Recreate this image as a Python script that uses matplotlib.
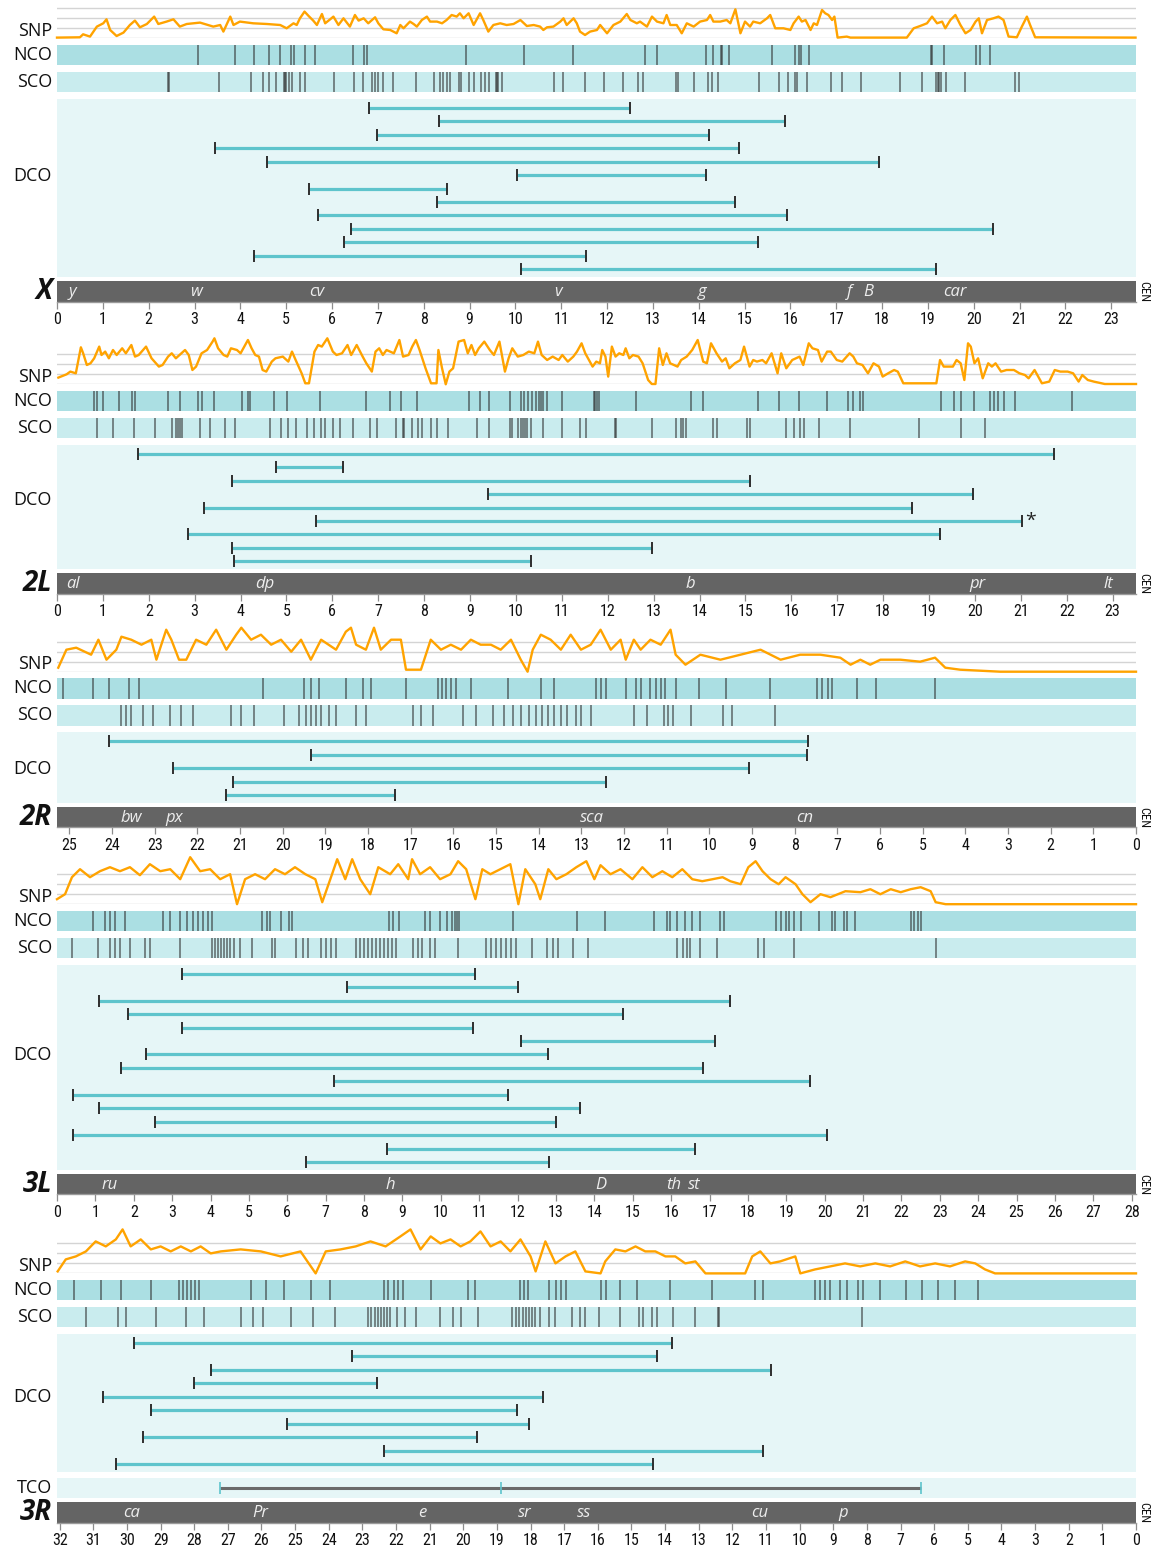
import matplotlib
matplotlib.use("Agg")
import matplotlib.pyplot as plt
import matplotlib.transforms as mtransforms
from matplotlib import font_manager
import numpy as np

# ---------------------------------------------------------------- data
# X chromosome
x_len = 23.54
x_genes = ["y", "w", "cv", "v", "g", "f", "B", "car"]
x_gene_pos = [0.33, 3.03, 5.67, 10.93, 14.07, 17.28, 17.70, 19.60]
x_snp = [(0.0, 0.07), (0.50, 0.1), (0.57, 0.4), (0.72, 0.17), (0.87, 1.17), (1.01, 1.5), (1.08, 1.9),
         (1.16, 0.83), (1.30, 0.23), (1.45, 0.57), (1.59, 1.33), (1.70, 1.77), (1.81, 1.1), (1.96, 1.43),
         (2.12, 2.17), (2.21, 1.43), (2.39, 1.67), (2.54, 1.9), (2.68, 1.17), (2.83, 1.43), (3.12, 1.57),
         (3.41, 1.17), (3.56, 1.33), (3.63, 0.67), (3.78, 2.17), (3.85, 1.33), (3.99, 1.67), (4.28, 1.5),
         (4.58, 1.43), (4.87, 1.33), (5.01, 1.0), (5.16, 1.5), (5.23, 1.33), (5.30, 2.0), (5.40, 2.67),
         (5.49, 2.23), (5.59, 1.77), (5.67, 1.33), (5.78, 2.43), (5.85, 1.5), (5.96, 1.9), (6.03, 2.17),
         (6.14, 1.33), (6.25, 2.0), (6.39, 1.17), (6.50, 2.33), (6.58, 1.77), (6.69, 2.0), (6.79, 1.5),
         (6.94, 2.1), (7.01, 1.5), (7.12, 0.9), (7.27, 0.83), (7.41, 0.5), (7.49, 1.33), (7.56, 1.0),
         (7.70, 1.67), (7.78, 1.43), (7.85, 1.17), (7.96, 1.83), (8.07, 2.17), (8.14, 1.67), (8.29, 1.67),
         (8.40, 1.5), (8.50, 1.83), (8.61, 2.33), (8.72, 2.17), (8.79, 2.5), (8.87, 2.0), (8.98, 2.5),
         (9.09, 1.33), (9.23, 2.5), (9.30, 1.83), (9.41, 0.67), (9.52, 1.33), (9.67, 1.5), (9.81, 1.33),
         (9.96, 1.43), (10.11, 1.83), (10.25, 1.23), (10.40, 1.33), (10.54, 1.17), (10.61, 0.83),
         (10.69, 1.1), (10.83, 1.17), (10.98, 1.67), (11.05, 2.0), (11.12, 1.33), (11.27, 2.0), (11.34, 1.5),
         (11.41, 0.67), (11.52, 0.33), (11.63, 0.67), (11.78, 0.83), (11.85, 1.33), (12.00, 0.5),
         (12.14, 1.33), (12.29, 1.67), (12.43, 2.43), (12.51, 1.83), (12.65, 1.5), (12.72, 1.67),
         (12.87, 1.17), (12.98, 2.17), (13.09, 1.67), (13.23, 1.5), (13.30, 2.33), (13.38, 1.33),
         (13.52, 1.33), (13.63, 0.5), (13.74, 1.5), (13.89, 1.17), (14.03, 1.67), (14.18, 1.83),
         (14.25, 2.33), (14.32, 1.67), (14.47, 1.67), (14.61, 1.83), (14.69, 1.5), (14.80, 2.9),
         (14.91, 0.5), (15.01, 1.67), (15.12, 1.17), (15.19, 1.67), (15.34, 1.5), (15.49, 2.0),
         (15.56, 2.33), (15.67, 1.0), (15.78, 1.0), (15.85, 1.0), (16.00, 0.83), (16.07, 1.5),
         (16.18, 2.17), (16.25, 1.67), (16.33, 1.83), (16.44, 0.83), (16.51, 1.5), (16.58, 1.33),
         (16.69, 2.83), (16.76, 2.5), (16.83, 2.33), (16.91, 1.83), (16.96, 2.17), (17.03, 0.07),
         (17.23, 0.17), (17.31, 0.07), (18.54, 0.07), (18.69, 1.0), (18.83, 1.23), (18.98, 1.5),
         (19.09, 2.17), (19.20, 1.5), (19.31, 1.67), (19.38, 1.0), (19.49, 1.83), (19.60, 2.33),
         (19.71, 1.33), (19.82, 0.5), (19.93, 0.83), (20.04, 1.67), (20.11, 2.0), (20.18, 0.5),
         (20.29, 1.83), (20.43, 2.0), (20.54, 2.17), (20.65, 1.83), (20.76, 0.17), (20.94, 0.1),
         (21.05, 1.17), (21.16, 2.17), (21.23, 1.33), (21.34, 0.1), (23.53, 0.07)]
x_nco = [3.08, 3.89, 4.30, 4.62, 4.87, 5.11, 5.17, 5.40, 5.63, 6.46, 6.70, 6.76, 8.93, 10.18, 11.25,
         12.83, 13.09, 14.16, 14.31, 14.48, 14.51, 14.67, 15.60, 16.10, 16.19, 16.24, 16.41, 19.06,
         19.10, 19.36, 20.05, 20.14, 20.36]
x_sco = [2.42, 2.45, 3.54, 4.23, 4.50, 4.62, 4.77, 4.95, 4.98, 5.00, 5.06, 5.13, 5.30, 5.40, 6.05,
         6.47, 6.68, 6.88, 6.93, 7.00, 7.12, 7.34, 7.84, 8.23, 8.36, 8.43, 8.51, 8.58, 8.77, 8.82, 8.99,
         9.09, 9.26, 9.33, 9.42, 9.57, 9.60, 9.62, 9.70, 10.85, 11.05, 11.51, 11.94, 12.35, 12.68, 12.79,
         13.50, 13.54, 13.89, 14.21, 14.29, 14.42, 15.31, 15.75, 15.95, 16.11, 16.14, 16.36, 16.89,
         17.13, 17.53, 18.40, 18.88, 19.18, 19.21, 19.25, 19.28, 19.39, 19.82, 20.90, 20.99]
x_dco_a = [6.81, 8.34, 6.98, 3.45, 4.58, 10.04, 5.50, 8.29, 5.70, 6.42, 6.26, 4.30, 10.13]
x_dco_b = [12.51, 15.89, 14.23, 14.88, 17.94, 14.16, 8.51, 14.80, 15.93, 20.41, 15.30, 11.55, 19.18]

# 2L
l2_len = 23.51
l2_genes = ["al", "dp", "b", "pr", "lt"]
l2_gene_pos = [0.35, 4.53, 13.80, 20.06, 22.91]
l2_snp = [(0.03, 0.67), (0.21, 1.0), (0.29, 1.27), (0.41, 1.1), (0.52, 3.7), (0.57, 3.1), (0.65, 1.93),
          (0.73, 2.1), (0.81, 2.6), (0.92, 3.77), (0.97, 2.93), (1.05, 3.27), (1.13, 2.6), (1.22, 3.43),
          (1.30, 2.93), (1.42, 3.6), (1.50, 3.1), (1.62, 3.93), (1.70, 2.77), (1.78, 2.93), (1.94, 3.77),
          (2.06, 2.6), (2.22, 1.77), (2.30, 1.93), (2.42, 2.77), (2.50, 3.1), (2.59, 2.6), (2.71, 3.1),
          (2.79, 3.43), (2.87, 2.93), (2.95, 1.43), (3.03, 1.77), (3.15, 3.1), (3.27, 3.43), (3.39, 4.27),
          (3.43, 4.6), (3.51, 3.6), (3.63, 2.93), (3.71, 2.77), (3.79, 3.6), (3.92, 3.43), (4.00, 3.1),
          (4.16, 4.43), (4.24, 3.6), (4.32, 2.93), (4.40, 2.77), (4.48, 1.43), (4.56, 1.27), (4.68, 2.27),
          (4.76, 2.6), (4.92, 2.77), (5.04, 2.27), (5.12, 3.27), (5.20, 2.43), (5.33, 1.1), (5.41, 0.1),
          (5.49, 0.1), (5.61, 3.27), (5.69, 3.93), (5.77, 3.77), (5.89, 4.6), (6.01, 3.27), (6.09, 2.93),
          (6.21, 3.1), (6.33, 3.93), (6.41, 2.93), (6.53, 3.93), (6.66, 2.77), (6.74, 2.1), (6.86, 1.27),
          (6.94, 3.27), (7.02, 3.6), (7.10, 2.93), (7.18, 3.43), (7.34, 3.1), (7.46, 4.43), (7.54, 2.77),
          (7.66, 2.93), (7.74, 3.77), (7.82, 4.43), (7.90, 3.43), (8.03, 1.6), (8.15, 0.1), (8.27, 0.1),
          (8.31, 3.43), (8.39, 1.6), (8.47, 0.0), (8.55, 1.27), (8.63, 1.6), (8.75, 4.27), (8.87, 4.43),
          (8.95, 3.1), (9.03, 3.93), (9.11, 2.93), (9.19, 3.6), (9.31, 4.27), (9.43, 3.43), (9.52, 2.93),
          (9.64, 4.27), (9.76, 1.27), (9.84, 2.6), (9.92, 3.6), (10.04, 2.77), (10.16, 2.93), (10.28, 3.27),
          (10.40, 3.1), (10.48, 4.27), (10.56, 2.93), (10.68, 2.43), (10.80, 2.77), (10.93, 2.43),
          (11.01, 2.93), (11.13, 2.27), (11.25, 2.77), (11.33, 3.27), (11.43, 4.1), (11.51, 3.1),
          (11.59, 2.43), (11.67, 1.77), (11.75, 2.27), (11.83, 2.1), (11.88, 3.43), (11.95, 2.77),
          (12.01, 0.77), (12.09, 3.77), (12.17, 2.77), (12.25, 3.1), (12.34, 2.93), (12.39, 3.6),
          (12.47, 2.6), (12.55, 2.93), (12.67, 2.77), (12.76, 2.1), (12.88, 0.43), (12.96, 0.03),
          (13.04, 0.03), (13.12, 3.6), (13.20, 1.93), (13.28, 3.1), (13.36, 2.1), (13.52, 1.77),
          (13.60, 2.43), (13.72, 2.77), (13.84, 3.43), (13.96, 4.43), (14.08, 2.27), (14.16, 2.1),
          (14.25, 4.1), (14.37, 3.1), (14.49, 2.27), (14.57, 2.6), (14.65, 1.6), (14.77, 2.1), (14.89, 2.43),
          (14.97, 3.77), (15.09, 1.77), (15.17, 2.43), (15.25, 2.27), (15.37, 2.43), (15.45, 2.1),
          (15.57, 3.1), (15.70, 1.1), (15.78, 3.1), (15.89, 1.6), (16.02, 2.43), (16.18, 2.77),
          (16.26, 1.93), (16.38, 4.1), (16.46, 3.6), (16.58, 3.43), (16.66, 2.27), (16.78, 3.27),
          (16.86, 3.27), (16.99, 2.43), (17.11, 2.27), (17.27, 3.1), (17.35, 2.77), (17.43, 2.1),
          (17.55, 1.93), (17.67, 1.1), (17.79, 2.1), (17.91, 1.77), (17.99, 0.77), (18.11, 1.1),
          (18.24, 1.43), (18.32, 1.27), (18.44, 0.1), (19.16, 0.1), (19.24, 2.43), (19.32, 1.77),
          (19.52, 1.77), (19.60, 2.43), (19.69, 2.1), (19.77, 0.43), (19.85, 4.1), (19.91, 3.77),
          (19.99, 2.1), (20.07, 2.6), (20.17, 0.6), (20.29, 2.1), (20.37, 1.77), (20.45, 2.1), (20.57, 1.27),
          (20.69, 1.43), (20.85, 1.43), (20.97, 1.1), (21.09, 0.93), (21.17, 0.6), (21.30, 1.43),
          (21.38, 0.77), (21.46, 0.1), (21.62, 0.27), (21.74, 1.43), (21.86, 1.27), (22.02, 1.27),
          (22.14, 1.1), (22.26, 0.27), (22.34, 0.93), (22.46, 0.43), (22.59, 0.27), (22.83, 0.03),
          (23.51, 0.03)]
l2_nco = [0.81, 0.87, 1.01, 1.36, 1.64, 1.70, 2.42, 2.68, 3.08, 3.17, 3.41, 4.04, 4.17, 4.21, 4.72,
          5.02, 5.74, 6.74, 7.26, 7.49, 7.84, 8.97, 9.22, 9.42, 9.88, 10.12, 10.18, 10.26, 10.36, 10.44,
          10.51, 10.55, 10.60, 10.68, 11.00, 11.69, 11.72, 11.77, 11.81, 12.62, 13.81, 14.07, 15.28,
          15.74, 16.17, 16.78, 17.23, 17.35, 17.49, 17.56, 19.26, 19.54, 19.70, 19.98, 20.33, 20.41,
          20.51, 20.63, 20.88, 22.12]
l2_sco = [0.87, 1.23, 1.68, 2.14, 2.50, 2.60, 2.64, 2.68, 2.72, 3.11, 3.33, 3.65, 3.87, 4.64, 4.88,
          5.03, 5.20, 5.45, 5.61, 5.75, 5.85, 6.01, 6.17, 6.45, 6.82, 6.98, 7.38, 7.53, 7.56, 7.74, 7.86,
          7.96, 8.15, 8.27, 8.51, 9.15, 9.41, 9.88, 9.92, 10.04, 10.12, 10.16, 10.20, 10.24, 10.32, 10.60,
          11.00, 11.40, 11.53, 12.15, 12.19, 12.96, 13.48, 13.59, 13.63, 13.70, 14.30, 14.37, 15.04,
          15.11, 15.88, 16.06, 16.18, 16.28, 16.60, 17.28, 18.78, 19.69, 20.23]
l2_dco_a = [1.76, 4.77, 3.81, 9.39, 3.20, 5.64, 2.85, 3.81, 3.86]
l2_dco_b = [21.72, 6.23, 15.10, 19.95, 18.62, 21.02, 19.23, 12.96, 10.32]

# 2R (drawn telomere on the left, centromere on the right)
r2_len = 25.29
r2_genes = ["bw", "px", "sca", "cn"]
r2_gene_pos = [23.55, 22.54, 12.76, 7.77]
r2_snp = [(25.26, 0.4), (25.07, 2.2), (24.84, 2.4), (24.49, 1.7), (24.32, 3.2), (24.13, 1.2), (23.90, 2.2),
          (23.78, 3.5), (23.55, 3.2), (23.31, 2.7), (23.08, 3.2), (22.96, 1.2), (22.73, 4.2), (22.61, 3.2),
          (22.43, 1.2), (22.26, 1.2), (22.03, 3.2), (21.79, 2.7), (21.56, 4.2), (21.32, 2.2), (21.09, 3.7),
          (20.97, 4.4), (20.74, 3.2), (20.51, 3.7), (20.27, 2.7), (20.04, 3.2), (19.80, 2.0), (19.57, 3.2),
          (19.34, 1.2), (19.10, 3.2), (18.75, 2.2), (18.52, 4.0), (18.40, 4.4), (18.28, 2.7), (18.05, 2.2),
          (17.86, 4.4), (17.70, 2.2), (17.46, 3.2), (17.23, 3.2), (17.11, 0.2), (16.76, 0.2), (16.53, 3.2),
          (16.29, 2.2), (16.06, 2.7), (15.82, 2.2), (15.59, 3.2), (15.36, 2.7), (15.12, 2.7), (14.89, 2.2),
          (14.65, 3.2), (14.42, 1.2), (14.26, 0.0), (14.14, 2.2), (13.95, 3.7), (13.72, 3.2), (13.48, 2.2),
          (13.25, 3.7), (13.01, 2.2), (12.78, 2.7), (12.55, 4.2), (12.31, 2.2), (12.08, 3.2), (11.96, 1.2),
          (11.77, 3.2), (11.61, 2.2), (11.38, 3.2), (11.14, 2.7), (10.91, 4.2), (10.79, 1.7), (10.56, 0.7),
          (10.21, 1.7), (9.74, 1.2), (9.27, 1.7), (8.80, 2.2), (8.33, 1.2), (7.87, 1.7), (7.40, 1.7),
          (6.93, 1.4), (6.69, 0.7), (6.46, 1.2), (6.23, 0.7), (5.99, 1.2), (5.52, 1.2), (5.06, 1.0),
          (4.71, 1.4), (4.47, 0.4), (4.12, 0.2), (3.18, 0.0), (0.0, 0.0)]
r2_nco = [25.14, 24.44, 24.06, 23.60, 23.36, 20.46, 19.50, 19.34, 19.15, 18.52, 18.12, 17.93, 17.11,
          16.36, 16.27, 16.18, 16.06, 15.94, 15.59, 14.72, 13.95, 13.65, 12.66, 12.55, 12.43, 11.96,
          11.73, 11.61, 11.38, 11.26, 11.14, 11.03, 10.79, 10.25, 9.62, 8.57, 7.47, 7.35, 7.23, 7.12,
          6.53, 6.09, 4.71]
r2_sco = [23.78, 23.67, 23.55, 23.27, 23.03, 22.64, 22.38, 22.10, 21.21, 20.97, 20.67, 19.97, 19.62,
          19.45, 19.34, 19.22, 19.10, 18.91, 18.75, 18.28, 18.05, 16.95, 16.76, 16.48, 15.78, 15.47,
          15.07, 14.82, 14.61, 14.42, 14.23, 14.07, 13.93, 13.79, 13.65, 13.48, 13.34, 13.13, 13.01,
          12.78, 11.77, 11.45, 11.07, 10.98, 10.86, 10.44, 9.69, 9.46, 8.45]
r2_dco_a = [24.06, 19.34, 22.57, 21.16, 21.33]
r2_dco_b = [7.68, 7.70, 9.06, 12.43, 17.37]

# 3L
l3_len = 28.11
l3_genes = ["ru", "h", "D", "th", "st"]
l3_gene_pos = [1.36, 8.68, 14.16, 16.08, 16.61]
l3_snp = [(0.0, 0.5), (0.21, 1.0), (0.39, 2.7), (0.60, 3.5), (0.86, 2.7), (1.12, 3.3), (1.38, 3.7),
          (1.64, 3.3), (1.90, 3.7), (2.16, 2.9), (2.42, 4.0), (2.69, 3.3), (2.95, 3.5), (3.21, 2.5),
          (3.47, 4.7), (3.73, 3.3), (3.99, 3.5), (4.25, 2.5), (4.51, 3.0), (4.69, 0.0), (4.90, 2.5),
          (5.16, 3.0), (5.42, 2.5), (5.68, 3.5), (5.94, 3.0), (6.20, 3.7), (6.47, 3.0), (6.73, 2.5),
          (6.91, 0.2), (7.12, 2.5), (7.30, 4.5), (7.51, 2.5), (7.69, 4.5), (7.90, 2.5), (8.16, 1.0),
          (8.37, 3.7), (8.68, 3.0), (8.89, 4.0), (9.15, 2.5), (9.25, 4.5), (9.46, 3.0), (9.72, 3.7),
          (9.98, 2.5), (10.25, 3.0), (10.45, 4.3), (10.66, 3.5), (10.90, 0.5), (11.08, 3.5), (11.29, 3.0),
          (11.55, 3.5), (11.81, 4.0), (12.02, 0.0), (12.20, 3.5), (12.46, 2.0), (12.59, 0.5), (12.80, 3.5),
          (13.01, 2.5), (13.27, 3.0), (13.53, 3.7), (13.79, 4.3), (14.00, 2.5), (14.16, 3.9), (14.42, 3.0),
          (14.68, 3.5), (14.99, 2.5), (15.25, 3.7), (15.51, 2.7), (15.77, 3.3), (16.03, 2.7), (16.29, 3.5),
          (16.55, 2.5), (16.81, 2.3), (17.08, 2.5), (17.34, 2.7), (17.54, 2.3), (17.81, 2.0), (18.01, 3.7),
          (18.20, 4.3), (18.38, 3.3), (18.59, 2.5), (18.80, 2.0), (18.98, 2.7), (19.24, 2.0), (19.42, 1.0),
          (19.63, 0.2), (19.89, 1.0), (20.15, 0.7), (20.54, 1.3), (20.93, 1.2), (21.19, 1.5), (21.45, 1.0),
          (21.72, 1.5), (21.98, 1.2), (22.24, 1.5), (22.50, 1.7), (22.76, 1.3), (22.89, 0.2), (23.15, 0.0),
          (28.11, 0.0)]
l3_nco = [0.94, 1.25, 1.38, 1.51, 1.77, 2.76, 2.95, 3.21, 3.39, 3.55, 3.68, 3.81, 3.94, 4.04, 5.34,
          5.47, 5.55, 5.84, 6.05, 6.13, 8.66, 8.76, 8.92, 9.59, 9.72, 9.99, 10.17, 10.30, 10.37, 10.43,
          10.48, 11.89, 13.56, 14.28, 15.54, 15.90, 15.98, 16.14, 16.37, 16.53, 16.76, 17.28, 17.37,
          18.72, 18.85, 18.98, 19.06, 19.19, 19.37, 19.84, 20.20, 20.28, 20.49, 20.59, 20.80, 22.24,
          22.32, 22.42, 22.50]
l3_sco = [0.39, 1.07, 1.38, 1.51, 1.64, 1.90, 2.29, 2.42, 3.21, 4.04, 4.12, 4.20, 4.27, 4.35, 4.43,
          4.51, 4.61, 4.77, 5.08, 5.60, 5.68, 6.23, 6.41, 6.54, 6.88, 7.01, 7.14, 7.27, 7.79, 7.90, 8.00,
          8.11, 8.21, 8.32, 8.42, 8.53, 8.63, 8.73, 8.84, 9.28, 9.41, 9.52, 9.72, 9.85, 10.45, 11.18,
          11.31, 11.44, 11.57, 11.70, 11.83, 11.96, 12.38, 12.77, 12.93, 13.06, 13.45, 13.84, 16.16,
          16.32, 16.42, 16.50, 16.76, 17.20, 18.27, 18.43, 19.19, 22.89]
l3_dco_a = [3.26, 7.56, 1.09, 1.85, 3.26, 12.10, 2.32, 1.67, 7.22, 0.42, 1.09, 2.55, 0.42, 8.60, 6.49]
l3_dco_b = [10.90, 12.02, 17.54, 14.75, 10.84, 17.13, 12.80, 16.84, 19.63, 11.76, 13.63, 13.01, 20.07,
            16.63, 12.83]

# 3R (drawn telomere on the left, centromere on the right)
r3_len = 32.08
r3_genes = ["ca", "Pr", "e", "sr", "ss", "cu", "p"]
r3_gene_pos = [29.85, 26.05, 21.22, 18.18, 16.40, 11.20, 8.70]
r3_snp = [(32.06, 0.2), (31.82, 1.4), (31.52, 1.7), (31.22, 2.2), (30.93, 3.2), (30.63, 2.7), (30.33, 3.4),
          (30.13, 4.4), (29.89, 2.7), (29.59, 3.4), (29.29, 2.4), (29.00, 2.7), (28.70, 2.2), (28.40, 2.7),
          (28.10, 2.2), (27.81, 2.7), (27.51, 2.0), (27.21, 2.2), (26.62, 2.4), (26.02, 2.2), (25.43, 1.7),
          (24.84, 2.2), (24.39, 0.0), (24.09, 2.2), (23.65, 2.4), (23.20, 2.7), (22.76, 3.2), (22.31, 2.7),
          (21.87, 3.7), (21.57, 4.4), (21.27, 2.4), (20.97, 3.7), (20.68, 3.0), (20.38, 3.4), (20.08, 2.7),
          (19.79, 3.2), (19.49, 4.2), (19.19, 2.7), (18.89, 3.2), (18.60, 2.2), (18.30, 3.4), (18.00, 1.7),
          (17.85, 0.2), (17.56, 3.2), (17.26, 1.0), (16.96, 1.7), (16.67, 2.2), (16.37, 0.2), (15.92, 0.0),
          (15.78, 1.2), (15.48, 2.4), (15.18, 2.2), (14.88, 2.7), (14.59, 2.2), (14.29, 2.2), (13.99, 1.7),
          (13.70, 1.7), (13.40, 1.0), (13.10, 1.2), (12.80, 0.0), (11.62, 0.0), (11.41, 1.7), (11.17, 2.2),
          (10.87, 1.0), (10.58, 1.2), (10.13, 1.7), (9.98, 0.0), (9.54, 0.4), (9.09, 0.7), (8.65, 1.0),
          (8.20, 0.7), (7.75, 1.0), (7.31, 0.7), (6.86, 1.2), (6.42, 0.7), (5.97, 1.0), (5.53, 0.7),
          (5.08, 1.2), (4.78, 1.0), (4.49, 0.4), (4.19, 0.0), (0.0, 0.0)]
r3_nco = [31.58, 30.78, 30.19, 29.29, 28.46, 28.34, 28.22, 28.10, 27.99, 27.87, 26.32, 25.88, 25.34,
          24.54, 23.95, 22.37, 22.25, 22.07, 21.93, 21.78, 20.97, 19.85, 19.64, 18.30, 18.21, 18.09,
          17.44, 17.23, 17.11, 16.96, 15.92, 15.75, 15.33, 14.83, 13.84, 12.60, 11.32, 11.08, 9.54, 9.39,
          9.24, 9.09, 8.79, 8.59, 8.26, 8.11, 7.61, 6.83, 6.36, 5.88, 5.38, 4.69]
r3_sco = [31.22, 30.27, 30.04, 29.15, 28.25, 27.72, 26.62, 26.26, 25.97, 25.13, 24.48, 23.80, 22.82,
          22.73, 22.64, 22.55, 22.46, 22.37, 22.28, 22.19, 21.96, 21.72, 21.42, 20.68, 20.32, 20.08,
          19.55, 18.54, 18.42, 18.33, 18.24, 18.15, 18.06, 17.97, 17.88, 17.71, 17.44, 17.26, 16.76,
          16.52, 16.37, 15.98, 15.33, 14.79, 14.65, 14.38, 14.23, 13.78, 13.10, 12.42, 12.39, 8.14]
r3_dco_a = [29.80, 23.32, 27.51, 28.02, 30.72, 29.29, 25.25, 29.53, 22.37, 30.33]
r3_dco_b = [13.81, 14.23, 10.84, 22.58, 17.62, 18.39, 18.06, 19.58, 11.08, 14.35]
r3_tco = [27.24, 18.89, 6.39]

# ---------------------------------------------------------------- style
W, H, DPI = 1156, 1546, 100
SNP_C = "#FFA300"
GRID_C = "#D4D4D4"
NCO_C = "#ABDFE3"
SCO_C = "#C9ECEE"
DCO_C = "#E6F6F7"
MARK_C = "#2E2E2E"
SEG_C = "#5EC4CC"
BAR_C = "#646464"
GENE_C = "#EDEDED"

_avail = {f.name for f in font_manager.fontManager.ttflist}


def fonts(*names):
    return [n for n in names if n in _avail] + ["DejaVu Sans"]


NARROW = fonts("Liberation Sans Narrow", "Roboto Condensed", "Open Sans")
SANS = fonts("Open Sans", "Lato", "Noto Sans")

fig = plt.figure(figsize=(W / DPI, H / DPI), dpi=DPI)
fig.patch.set_facecolor("white")

LEFT, RIGHT = 57, 1136
ROW_H = 20.5
GAP = 6.5
STEP = 13.45  # spacing of stacked DCO/TCO lines, px


def px_axes(top, height):
    ax = fig.add_axes([LEFT / W, 1 - (top + height) / H, (RIGHT - LEFT) / W, height / H])
    for s in ax.spines.values():
        s.set_visible(False)
    ax.set_xticks([])
    ax.set_yticks([])
    return ax


def row_label(text, y, size=13):
    fig.text(52 / W, 1 - y / H, text, ha="right", va="center", fontsize=size,
             family=SANS, color="#111111")


def draw_chrom(name, length, flipped, max_tick, genes, gene_pos, snp, nco, sco,
               dco_a, dco_b, base, tco=None, star=None, dco_lab=0.44):
    xlim = (length, 0) if flipped else (0, length)

    # SNP density trace
    ax = px_axes(base - 52, 52)
    ax.set_xlim(xlim)
    ax.set_ylim(0, 5.2)
    for g in range(4):
        ax.axhline(g, color=GRID_C, lw=1.0, zorder=1)
    sx = [p[0] for p in snp]
    sy = [p[1] for p in snp]
    ax.plot(sx, sy, color=SNP_C, lw=1.7, zorder=3, clip_on=False, solid_joinstyle="round")
    row_label("SNP", base - 7.5)

    # NCO / SCO event rows
    top = base + GAP
    for lab, pos, col in (("NCO", nco, NCO_C), ("SCO", sco, SCO_C)):
        ax = px_axes(top, ROW_H)
        ax.set_facecolor(col)
        ax.set_xlim(xlim)
        ax.set_ylim(0, 1)
        ax.vlines(pos, 0, 1, color=MARK_C, lw=1.1, alpha=0.7)
        row_label(lab, top + ROW_H / 2)
        top += ROW_H + GAP

    # DCO intervals
    n = len(dco_a)
    h = 17 + (n - 1) * STEP
    ax = px_axes(top, h)
    ax.set_facecolor(DCO_C)
    ax.set_xlim(xlim)
    ax.set_ylim(n - 1 + 8 / STEP, -9 / STEP)
    rows = np.arange(n)
    ax.hlines(rows, dco_a, dco_b, color=SEG_C, lw=2.3, zorder=2)
    ax.plot(dco_a, rows, ls="none", marker="|", ms=8.5, mew=1.4, color=MARK_C, zorder=3)
    ax.plot(dco_b, rows, ls="none", marker="|", ms=8.5, mew=1.4, color=MARK_C, zorder=3)
    if star is not None:
        ax.text(star[0], star[1], "*", ha="center", va="center", fontsize=14,
                color="#222222", family=SANS)
    row_label("DCO", top + h * dco_lab)
    top += h

    # TCO row
    if tco is not None:
        top += GAP
        ax = px_axes(top, 20)
        ax.set_facecolor(DCO_C)
        ax.set_xlim(xlim)
        ax.set_ylim(-1, 1)
        ax.hlines([0], min(tco), max(tco), color="#6A6A6A", lw=2.2, zorder=2)
        ax.plot(tco, [0] * len(tco), ls="none", marker="|", ms=9, mew=1.2,
                color=SEG_C, zorder=3)
        row_label("TCO", top + 10)
        top += 20

    # chromosome bar with scale
    top += 4
    bh = 20.3
    ax = px_axes(top, bh)
    ax.set_facecolor(BAR_C)
    ax.set_xlim(xlim)
    ax.set_ylim(0, 1)
    ax.spines["bottom"].set_visible(True)
    ax.spines["bottom"].set_color("#9A9A9A")
    ax.spines["bottom"].set_linewidth(1.0)
    ticks = np.arange(0, max_tick + 1)
    ax.set_xticks(ticks)
    ax.set_xticklabels([str(t) for t in ticks], family=NARROW, fontsize=11.5)
    ax.tick_params(axis="x", direction="out", length=5, width=0.9, color="#8C8C8C",
                   pad=2.5, labelcolor="#111111")
    tr = mtransforms.blended_transform_factory(ax.transData, ax.transAxes)
    for g, p in zip(genes, gene_pos):
        ax.text(p, 0.47, g, transform=tr, ha="center", va="center", fontsize=12,
                style="italic", color=GENE_C, family=SANS)
    fig.text(52 / W, 1 - (top + bh / 2) / H, name, ha="right", va="center",
             fontsize=20, fontweight="bold", style="italic", family=SANS, color="#111111")
    fig.text(1143.5 / W, 1 - (top + bh / 2) / H, "CEN", ha="center", va="center",
             rotation=-90, fontsize=9, family=NARROW, color="#111111")


draw_chrom("X", x_len, False, 23, x_genes, x_gene_pos, x_snp, x_nco, x_sco,
           x_dco_a, x_dco_b, base=38.3, dco_lab=0.43)
draw_chrom("2L", l2_len, False, 23, l2_genes, l2_gene_pos, l2_snp, l2_nco, l2_sco,
           l2_dco_a, l2_dco_b, base=384.3, star=(21.22, 5), dco_lab=0.44)
draw_chrom("2R", r2_len, True, 25, r2_genes, r2_gene_pos, r2_snp, r2_nco, r2_sco,
           r2_dco_a, r2_dco_b, base=671.7, dco_lab=0.52)
draw_chrom("3L", l3_len, False, 28, l3_genes, l3_gene_pos, l3_snp, l3_nco, l3_sco,
           l3_dco_a, l3_dco_b, base=904.2, dco_lab=0.44)
draw_chrom("3R", r3_len, True, 32, r3_genes, r3_gene_pos, r3_snp, r3_nco, r3_sco,
           r3_dco_a, r3_dco_b, base=1273.4, tco=r3_tco, dco_lab=0.46)

fig.savefig("out.png", dpi=DPI, facecolor="white")
